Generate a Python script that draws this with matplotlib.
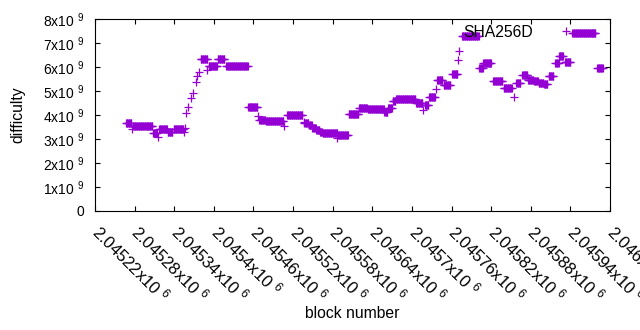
# Difficulty per block for SHA256D, gnuplot-style points.

import numpy as np
import matplotlib
matplotlib.use("Agg")
import matplotlib.pyplot as plt
from matplotlib.transforms import ScaledTranslation

plt.rcParams['font.family'] = ['Liberation Sans', 'DejaVu Sans']
plt.rcParams['mathtext.fontset'] = 'custom'
plt.rcParams['mathtext.rm'] = 'Liberation Sans'
plt.rcParams['mathtext.default'] = 'rm'

# Runs of blocks that share one difficulty: first block, last block, difficulty (x1e9)
run_first = [2045267, 2045276, 2045278, 2045308, 2045315, 2045317, 2045330, 2045339,
             2045355, 2045357, 2045358, 2045361, 2045365, 2045369, 2045373, 2045375,
             2045378, 2045380, 2045389, 2045392, 2045406, 2045419, 2045452, 2045467,
             2045469, 2045479, 2045507, 2045511, 2045536, 2045537, 2045544, 2045549,
             2045555, 2045561, 2045565, 2045586, 2045588, 2045604, 2045620, 2045633,
             2045658, 2045664, 2045671, 2045676, 2045706, 2045717, 2045720, 2045726,
             2045736, 2045738, 2045748, 2045761, 2045770, 2045772, 2045776, 2045802,
             2045808, 2045823, 2045839, 2045854, 2045858, 2045867, 2045876, 2045885,
             2045892, 2045900, 2045907, 2045917, 2045923, 2045932, 2045943, 2045981]
run_last = [2045275, 2045276, 2045307, 2045314, 2045315, 2045329, 2045337, 2045354,
            2045355, 2045357, 2045358, 2045361, 2045365, 2045369, 2045373, 2045375,
            2045378, 2045390, 2045389, 2045405, 2045416, 2045451, 2045466, 2045467,
            2045478, 2045505, 2045507, 2045534, 2045536, 2045543, 2045548, 2045554,
            2045560, 2045564, 2045587, 2045586, 2045603, 2045619, 2045632, 2045657,
            2045663, 2045670, 2045675, 2045705, 2045716, 2045717, 2045725, 2045735,
            2045736, 2045746, 2045758, 2045769, 2045770, 2045772, 2045801, 2045807,
            2045820, 2045837, 2045851, 2045854, 2045864, 2045875, 2045884, 2045891,
            2045899, 2045905, 2045914, 2045922, 2045929, 2045940, 2045978, 2045989]
run_difficulty = [3.65, 3.40, 3.54, 3.25, 3.10, 3.43, 3.28, 3.40,
                  3.30, 3.47, 4.08, 4.35, 4.70, 4.93, 5.39, 5.62,
                  5.80, 6.32, 5.87, 6.04, 6.32, 6.04, 4.32, 3.95,
                  3.80, 3.74, 3.55, 3.98, 3.70, 3.68, 3.57, 3.47,
                  3.38, 3.30, 3.27, 3.04, 3.18, 4.03, 4.28, 4.24,
                  4.12, 4.28, 4.58, 4.66, 4.50, 4.20, 4.42, 4.75,
                  5.10, 5.46, 5.25, 5.69, 6.29, 6.65, 7.29, 5.96,
                  6.16, 5.42, 5.12, 4.75, 5.33, 5.65, 5.46, 5.42,
                  5.35, 5.29, 5.62, 6.15, 6.46, 6.21, 7.41, 5.96]

x_ticks = np.arange(2045220, 2046001, 60)
y_ticks = np.arange(0, 9) * 1e9

blocks = []
diffs = []
for first, last, d in zip(run_first, run_last, run_difficulty):
    for b in range(first, last + 1):
        blocks.append(b)
        diffs.append(d * 1e9)

fig = plt.figure(figsize=(6.4, 3.3), dpi=100)
ax = fig.add_axes([95 / 640, 1 - 211 / 330, 515 / 640, 192 / 330])

ax.plot(blocks, diffs, linestyle='none', marker='+', markersize=6,
        markeredgewidth=0.9, color='#9400d3', label='SHA256D')

ax.set_xlim(2045220, 2046000)
ax.set_ylim(0, 8e9)

ax.set_xticks(x_ticks)
ax.set_xticklabels(['%gx10 $^{6}$' % (v / 1e6) for v in x_ticks],
                   rotation=-45, ha='left', va='top', rotation_mode='anchor',
                   fontsize=12)
ax.set_yticks(y_ticks)
ax.set_yticklabels(['0'] + ['%dx10 $^{9}$' % k for k in range(1, 9)], fontsize=10)

ax.tick_params(direction='in', length=3.5, width=0.8, top=True, right=True,
               colors='black')
ax.tick_params(axis='x', pad=7)
ax.tick_params(axis='y', pad=8)
for s in ax.spines.values():
    s.set_linewidth(0.8)

# push the slanted labels a little to the right, like gnuplot does
shift = ScaledTranslation(7.5 / 100, 0, fig.dpi_scale_trans)
for lab in ax.get_xticklabels():
    lab.set_transform(lab.get_transform() + shift)

ax.set_xlabel('block number', fontsize=11.3)
ax.set_ylabel('difficulty', fontsize=11.3)
ax.xaxis.set_label_coords(0.5, -0.495)
ax.yaxis.set_label_coords(-0.135, 0.5)

ax.legend(loc='center right', bbox_to_anchor=(0.961, 0.932), frameon=False,
          markerfirst=False, numpoints=1, handlelength=3.0, handletextpad=0.6,
          borderpad=0, borderaxespad=0, fontsize=11.3)

fig.savefig('out.png', dpi=100)
